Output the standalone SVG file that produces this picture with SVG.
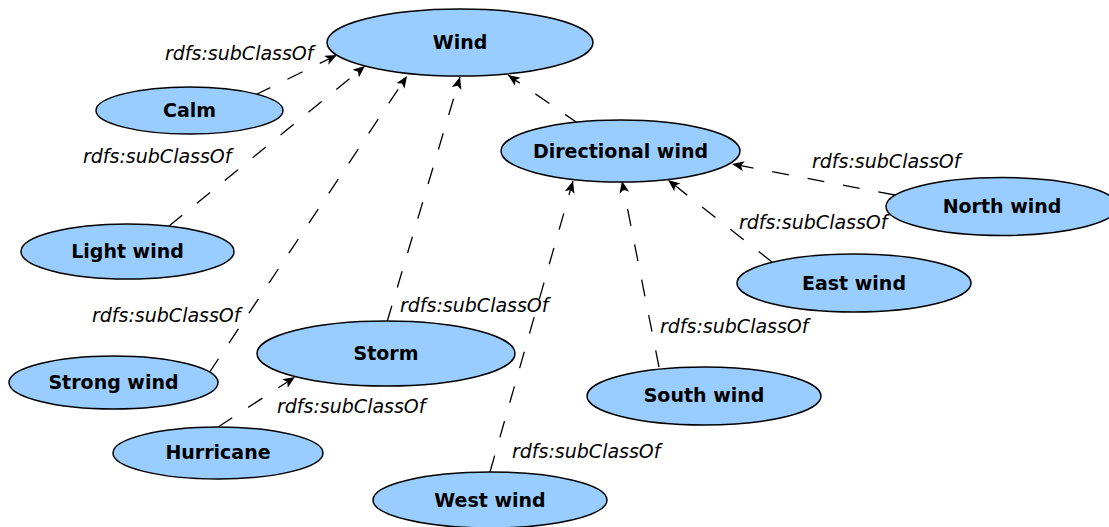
<svg xmlns="http://www.w3.org/2000/svg" width="1109" height="527" viewBox="0 0 1109 527">
<style>
.node ellipse{fill:#99ccff;stroke:#000;stroke-width:1.5}
.node text{font-family:"DejaVu Sans",sans-serif;font-weight:bold;font-size:19px;text-anchor:middle;fill:#000}
.edge line{stroke:#000;stroke-width:1.3;stroke-dasharray:17 19;fill:none}
.lbl{font-family:"DejaVu Sans",sans-serif;font-style:italic;font-size:19px;fill:#000}
</style>
<defs>
<marker id="arr" markerUnits="userSpaceOnUse" markerWidth="14" markerHeight="12" refX="12" refY="5" orient="auto" viewBox="0 0 14 12">
<path d="M0,0 L12,5 L0,10 L3,5 z" fill="#000"/>
</marker>
</defs>
<rect width="1109" height="527" fill="#fff"/>
<g id="connectors">
<g class="edge" id="e-calm"><line x1="255" y1="95" x2="337" y2="55" marker-end="url(#arr)"/><text class="lbl" x="165" y="60">rdfs:subClassOf</text></g>
<g class="edge" id="e-light"><line x1="169" y1="226" x2="365" y2="66" marker-end="url(#arr)"/><text class="lbl" x="83" y="163">rdfs:subClassOf</text></g>
<g class="edge" id="e-strong"><line x1="209" y1="373" x2="407" y2="76" marker-end="url(#arr)"/><text class="lbl" x="92" y="322">rdfs:subClassOf</text></g>
<g class="edge" id="e-storm"><line x1="387" y1="322" x2="460" y2="77" marker-end="url(#arr)"/><text class="lbl" x="400" y="312">rdfs:subClassOf</text></g>
<g class="edge" id="e-dir"><line x1="579" y1="124" x2="508" y2="75" marker-end="url(#arr)"/></g>
<g class="edge" id="e-hurr"><line x1="218" y1="427" x2="295" y2="377" marker-end="url(#arr)"/><text class="lbl" x="277" y="413">rdfs:subClassOf</text></g>
<g class="edge" id="e-west"><line x1="490" y1="472" x2="573" y2="181" marker-end="url(#arr)"/><text class="lbl" x="512" y="458">rdfs:subClassOf</text></g>
<g class="edge" id="e-south"><line x1="659" y1="367" x2="622" y2="181" marker-end="url(#arr)"/><text class="lbl" x="660" y="333">rdfs:subClassOf</text></g>
<g class="edge" id="e-east"><line x1="772" y1="262" x2="668" y2="180" marker-end="url(#arr)"/><text class="lbl" x="739" y="229">rdfs:subClassOf</text></g>
<g class="edge" id="e-north"><line x1="895" y1="195" x2="732" y2="164" marker-end="url(#arr)"/><text class="lbl" x="812" y="168">rdfs:subClassOf</text></g>
</g>
<g class="node" id="wind"><ellipse cx="460" cy="42.5" rx="133" ry="33.5"/><text x="460" y="49">Wind</text></g>
<g class="node" id="calm"><ellipse cx="189.5" cy="110.5" rx="93.5" ry="23.5"/><text x="189.5" y="117">Calm</text></g>
<g class="node" id="directional"><ellipse cx="620.5" cy="151" rx="119.5" ry="31"/><text x="620.5" y="158">Directional wind</text></g>
<g class="node" id="north"><ellipse cx="1002" cy="206.5" rx="116" ry="29"/><text x="1002" y="213">North wind</text></g>
<g class="node" id="light"><ellipse cx="127.5" cy="251.5" rx="106.5" ry="27.5"/><text x="127.5" y="258">Light wind</text></g>
<g class="node" id="east"><ellipse cx="854" cy="283" rx="117" ry="29"/><text x="854" y="290">East wind</text></g>
<g class="node" id="storm"><ellipse cx="386" cy="353.5" rx="129" ry="32.5"/><text x="386" y="360">Storm</text></g>
<g class="node" id="strong"><ellipse cx="113.5" cy="382.5" rx="104.5" ry="26.5"/><text x="113.5" y="389">Strong wind</text></g>
<g class="node" id="south"><ellipse cx="704" cy="396" rx="117" ry="29"/><text x="704" y="402">South wind</text></g>
<g class="node" id="hurricane"><ellipse cx="218" cy="453" rx="105" ry="26"/><text x="218" y="459">Hurricane</text></g>
<g class="node" id="west"><ellipse cx="490" cy="500" rx="117" ry="28"/><text x="490" y="507">West wind</text></g>
</svg>
